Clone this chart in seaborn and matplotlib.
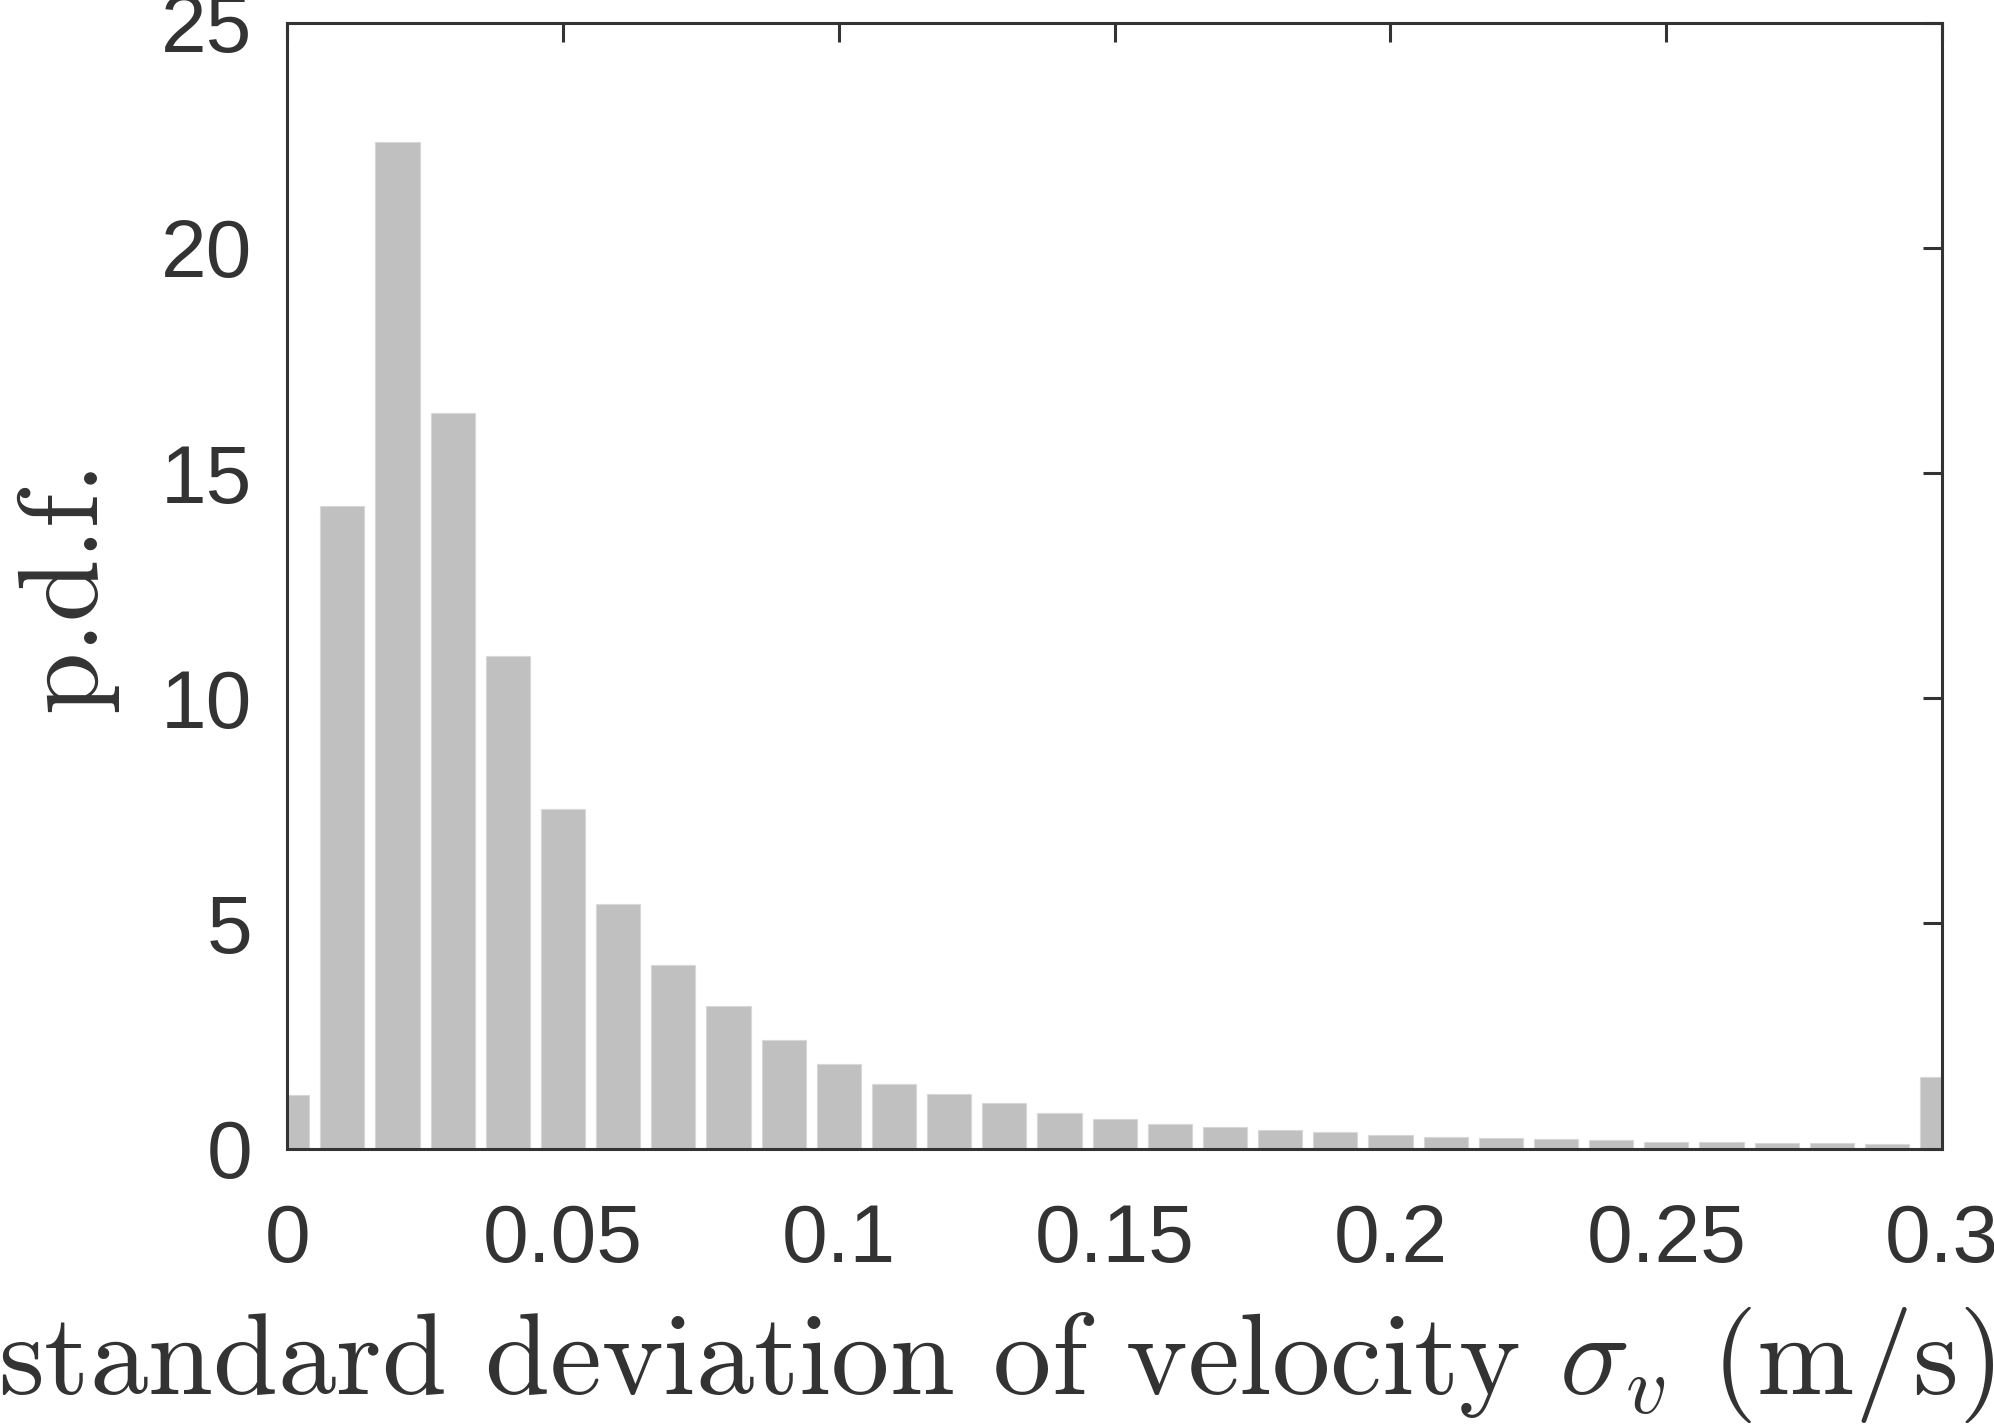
import numpy as np
import pandas as pd
import matplotlib
matplotlib.use("Agg")
import matplotlib.pyplot as plt
import seaborn as sns

# ---- data ----
sigma_v = [0.00, 0.01, 0.02, 0.03, 0.04, 0.05, 0.06, 0.07, 0.08, 0.09,
           0.10, 0.11, 0.12, 0.13, 0.14, 0.15, 0.16, 0.17, 0.18, 0.19,
           0.20, 0.21, 0.22, 0.23, 0.24, 0.25, 0.26, 0.27, 0.28, 0.29, 0.30]
pdf = [1.18, 14.27, 22.36, 16.33, 10.93, 7.53, 5.42, 4.07, 3.16, 2.40,
       1.87, 1.44, 1.21, 1.01, 0.79, 0.66, 0.55, 0.47, 0.42, 0.36,
       0.30, 0.26, 0.24, 0.215, 0.18, 0.155, 0.15, 0.13, 0.13, 0.11, 1.58]
xticks = [0, 0.05, 0.1, 0.15, 0.2, 0.25, 0.3]
xticklabels = ["0", "0.05", "0.1", "0.15", "0.2", "0.25", "0.3"]
yticks = [0, 5, 10, 15, 20, 25]
yticklabels = ["0", "5", "10", "15", "20", "25"]

df = pd.DataFrame({"sigma": sigma_v, "pdf": pdf})

sns.set_style("white")
plt.rcParams["font.family"] = ["Liberation Sans", "DejaVu Sans"]
plt.rcParams["mathtext.fontset"] = "cm"

ink = "#333333"
fig = plt.figure(figsize=(19.94, 14.25), dpi=100)
ax = fig.add_axes([0.144, 0.194, 0.830, 0.790])

sns.barplot(data=df, x="sigma", y="pdf", native_scale=True, width=0.8,
            color="#c0c0c0", saturation=1, edgecolor="#d8d8d8", linewidth=0.8,
            ax=ax, zorder=1)

ax.set_xlim(0, 0.3)
ax.set_ylim(0, 25)
ax.set_xticks(xticks)
ax.set_xticklabels(xticklabels)
ax.set_yticks(yticks)
ax.set_yticklabels(yticklabels)

for s in ax.spines.values():
    s.set_visible(True)
    s.set_color(ink)
    s.set_linewidth(2.2)
    s.set_zorder(5)

ax.tick_params(axis="both", which="major", direction="in", length=13.5,
               width=2.2, color=ink, labelcolor=ink, labelsize=59,
               top=True, right=True, zorder=6)
ax.tick_params(axis="x", pad=39)
ax.tick_params(axis="y", pad=25)

ax.set_xlabel(r"standard deviation of velocity $\sigma_v$ (m/s)",
              fontfamily="cmr10", fontsize=84, color=ink, va="baseline")
ax.set_ylabel("p.d.f.", fontfamily="cmr10", fontsize=81, color=ink,
              va="baseline")
ax.xaxis.set_label_coords(0.4287, -0.2178)
ax.yaxis.set_label_coords(-0.116, 0.5)

fig.savefig("out.png", dpi=100, facecolor="white")
